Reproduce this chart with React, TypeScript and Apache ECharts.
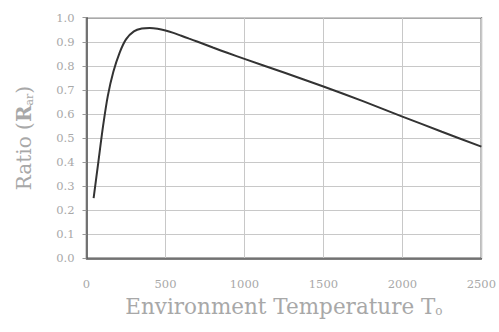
import React, { useEffect, useRef } from "react";
import * as echarts from "echarts";

const temperatures = [45, 75, 105, 135, 170, 210, 250, 300, 350, 400, 450, 500, 550, 600, 650, 700, 800, 900, 1000, 1250, 1500, 1750, 2000, 2250, 2500];
const ratios = [0.25, 0.4, 0.55, 0.675, 0.775, 0.855, 0.91, 0.943, 0.955, 0.957, 0.954, 0.947, 0.937, 0.925, 0.913, 0.901, 0.876, 0.852, 0.829, 0.772, 0.714, 0.653, 0.589, 0.526, 0.464];
const xTicks = [0, 500, 1000, 1500, 2000, 2500];
const xTitle = "Environment Temperature T";
const xTitleSub = "o";
const yTitle = "Ratio (";
const yTitleR = "R";
const yTitleSub = "ar";

export default function App() {
  const ref = useRef<HTMLDivElement>(null);
  useEffect(() => {
    if (!ref.current) return;
    const chart = echarts.init(ref.current, undefined, { renderer: "svg" });
    const font = "DejaVu Serif";
    const textColor = "#a8a8a8";
    chart.setOption({
      animation: false,
      backgroundColor: "#fff",
      grid: {
        left: 86.5,
        right: 15.7,
        top: 17.7,
        bottom: 73.7,
        show: true,
        borderColor: "#555",
        borderWidth: 1.5,
        backgroundColor: "transparent",
      },
      xAxis: {
        type: "value",
        min: xTicks[0],
        max: xTicks[xTicks.length - 1],
        interval: 500,
        name: `{t|${xTitle}}{s|${xTitleSub}}`,
        nameLocation: "middle",
        nameGap: 35,
        nameTextStyle: {
          rich: {
            t: { fontFamily: font, fontSize: 21.5, color: textColor },
            s: { fontFamily: font, fontSize: 12, color: textColor, verticalAlign: "bottom", padding: [10, 0, 0, 0] },
          },
        },
        axisLine: { show: true, lineStyle: { color: "#555", width: 1.5 } },
        axisTick: { show: false },
        axisLabel: {
          fontFamily: font,
          fontSize: 11.5,
          color: textColor,
          margin: 20,
          formatter: (v: number) => String(v),
        },
        splitLine: { show: true, lineStyle: { color: "#c8c8c8", width: 1 } },
      },
      yAxis: {
        type: "value",
        min: 0,
        max: 1,
        interval: 0.1,
        name: `{t|${yTitle}}{b|${yTitleR}}{s|${yTitleSub}}{t|)}`,
        nameLocation: "middle",
        nameGap: 52,
        nameRotate: 90,
        nameTextStyle: {
          rich: {
            t: { fontFamily: font, fontSize: 20, color: textColor },
            b: { fontFamily: font, fontSize: 20, color: textColor, fontWeight: "bold" },
            s: { fontFamily: font, fontSize: 11, color: textColor, padding: [10, 0, 0, 0] },
          },
        },
        axisLine: { show: true, lineStyle: { color: "#555", width: 1.5 } },
        axisTick: { show: true, length: 4, lineStyle: { color: "#999" } },
        axisLabel: {
          fontFamily: font,
          fontSize: 11.5,
          color: textColor,
          margin: 12,
          formatter: (v: number) => v.toFixed(1),
        },
        splitLine: { show: true, lineStyle: { color: "#c8c8c8", width: 1 } },
      },
      series: [
        {
          type: "line",
          data: temperatures.map((t, i) => [t, ratios[i]]),
          smooth: 0.3,
          showSymbol: false,
          lineStyle: { color: "#333", width: 2 },
        },
      ],
    });
    return () => chart.dispose();
  }, []);
  return <div ref={ref} style={{ position: "fixed", left: 0, top: 0, width: 499, height: 332 }} />;
}
